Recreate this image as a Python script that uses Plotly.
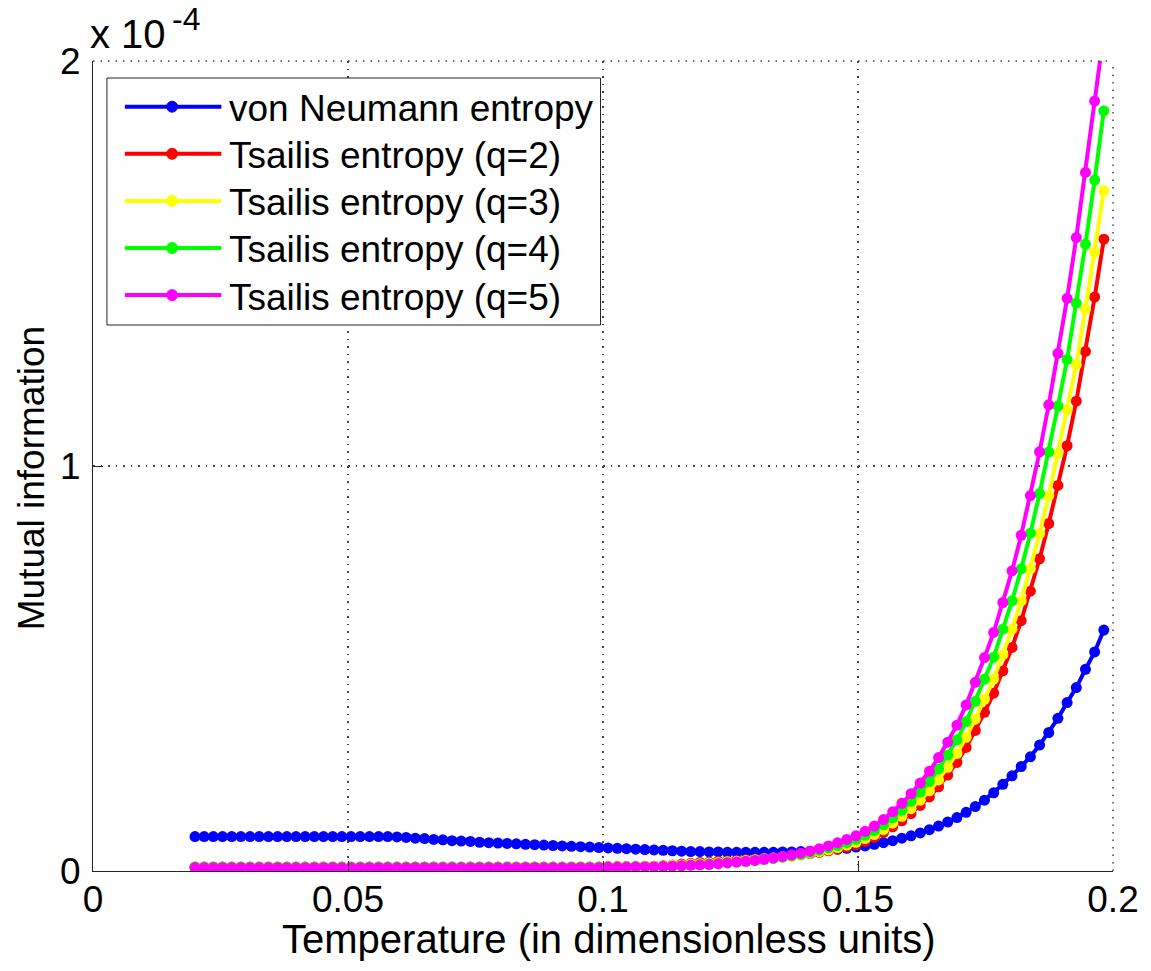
import plotly.graph_objects as go

# Temperature grid (dimensionless)
temperature = [
    0.0200, 0.0218, 0.0236, 0.0254, 0.0272, 0.0290, 0.0308, 0.0326, 0.0344, 0.0362,
    0.0380, 0.0398, 0.0416, 0.0434, 0.0452, 0.0470, 0.0488, 0.0506, 0.0524, 0.0542,
    0.0560, 0.0578, 0.0596, 0.0614, 0.0632, 0.0650, 0.0668, 0.0686, 0.0704, 0.0722,
    0.0740, 0.0758, 0.0776, 0.0794, 0.0812, 0.0830, 0.0848, 0.0866, 0.0884, 0.0902,
    0.0920, 0.0938, 0.0956, 0.0974, 0.0992, 0.1010, 0.1028, 0.1046, 0.1064, 0.1082,
    0.1100, 0.1118, 0.1136, 0.1154, 0.1172, 0.1190, 0.1208, 0.1226, 0.1244, 0.1262,
    0.1280, 0.1298, 0.1316, 0.1334, 0.1352, 0.1370, 0.1388, 0.1406, 0.1424, 0.1442,
    0.1460, 0.1478, 0.1496, 0.1514, 0.1532, 0.1550, 0.1568, 0.1586, 0.1604, 0.1622,
    0.1640, 0.1658, 0.1676, 0.1694, 0.1712, 0.1730, 0.1748, 0.1766, 0.1784, 0.1802,
    0.1820, 0.1838, 0.1856, 0.1874, 0.1892, 0.1910, 0.1928, 0.1946, 0.1964, 0.1982,
]

# Mutual information, in units of 1e-4
von_neumann = [
    0.085, 0.085, 0.085, 0.085, 0.085, 0.085, 0.085, 0.085, 0.085, 0.085,
    0.085, 0.085, 0.085, 0.085, 0.085, 0.085, 0.085, 0.085, 0.085, 0.085,
    0.085, 0.085, 0.084, 0.083, 0.081, 0.080, 0.078, 0.077, 0.075, 0.074,
    0.073, 0.071, 0.070, 0.069, 0.068, 0.067, 0.066, 0.065, 0.064, 0.063,
    0.062, 0.061, 0.060, 0.059, 0.058, 0.057, 0.056, 0.055, 0.054, 0.053,
    0.052, 0.051, 0.050, 0.049, 0.048, 0.048, 0.047, 0.047, 0.046, 0.046,
    0.046, 0.046, 0.046, 0.046, 0.047, 0.047, 0.048, 0.049, 0.050, 0.052,
    0.054, 0.056, 0.059, 0.062, 0.066, 0.070, 0.075, 0.081, 0.087, 0.094,
    0.102, 0.111, 0.121, 0.132, 0.145, 0.159, 0.175, 0.193, 0.214, 0.235,
    0.258, 0.282, 0.311, 0.342, 0.377, 0.416, 0.453, 0.498, 0.541, 0.595,
]

tsallis_q2 = [
    0.010, 0.010, 0.010, 0.010, 0.010, 0.010, 0.010, 0.010, 0.010, 0.010,
    0.010, 0.010, 0.010, 0.010, 0.010, 0.010, 0.010, 0.010, 0.010, 0.010,
    0.010, 0.010, 0.010, 0.010, 0.010, 0.010, 0.010, 0.010, 0.010, 0.010,
    0.010, 0.010, 0.010, 0.010, 0.010, 0.010, 0.010, 0.010, 0.010, 0.010,
    0.010, 0.010, 0.010, 0.010, 0.010, 0.011, 0.011, 0.011, 0.011, 0.012,
    0.012, 0.013, 0.015, 0.017, 0.019, 0.021, 0.022, 0.024, 0.025, 0.026,
    0.028, 0.029, 0.031, 0.033, 0.035, 0.037, 0.040, 0.043, 0.046, 0.050,
    0.054, 0.059, 0.065, 0.073, 0.083, 0.095, 0.109, 0.124, 0.142, 0.162,
    0.183, 0.208, 0.237, 0.268, 0.305, 0.347, 0.392, 0.439, 0.494, 0.552,
    0.618, 0.691, 0.771, 0.858, 0.952, 1.050, 1.160, 1.283, 1.417, 1.560,
]

tsallis_q3 = [
    0.009, 0.009, 0.009, 0.009, 0.009, 0.009, 0.009, 0.009, 0.009, 0.009,
    0.009, 0.009, 0.009, 0.009, 0.009, 0.009, 0.009, 0.009, 0.009, 0.009,
    0.009, 0.009, 0.009, 0.009, 0.009, 0.009, 0.009, 0.009, 0.009, 0.009,
    0.009, 0.009, 0.009, 0.009, 0.009, 0.009, 0.009, 0.009, 0.009, 0.009,
    0.009, 0.009, 0.009, 0.009, 0.009, 0.010, 0.010, 0.010, 0.010, 0.011,
    0.011, 0.012, 0.014, 0.015, 0.017, 0.018, 0.020, 0.021, 0.023, 0.024,
    0.026, 0.028, 0.030, 0.032, 0.035, 0.037, 0.040, 0.044, 0.048, 0.052,
    0.058, 0.064, 0.071, 0.080, 0.090, 0.102, 0.118, 0.135, 0.154, 0.175,
    0.198, 0.225, 0.256, 0.290, 0.330, 0.375, 0.424, 0.474, 0.534, 0.597,
    0.667, 0.746, 0.833, 0.927, 1.031, 1.138, 1.250, 1.387, 1.528, 1.680,
]

tsallis_q4 = [
    0.009, 0.009, 0.009, 0.009, 0.009, 0.009, 0.009, 0.009, 0.009, 0.009,
    0.009, 0.009, 0.009, 0.009, 0.009, 0.009, 0.009, 0.009, 0.009, 0.009,
    0.009, 0.009, 0.009, 0.009, 0.009, 0.009, 0.009, 0.009, 0.009, 0.009,
    0.009, 0.009, 0.009, 0.009, 0.009, 0.009, 0.009, 0.009, 0.009, 0.009,
    0.009, 0.009, 0.009, 0.009, 0.009, 0.009, 0.009, 0.010, 0.010, 0.010,
    0.010, 0.011, 0.012, 0.013, 0.015, 0.016, 0.018, 0.019, 0.021, 0.022,
    0.024, 0.026, 0.029, 0.031, 0.034, 0.038, 0.041, 0.046, 0.051, 0.057,
    0.063, 0.070, 0.078, 0.088, 0.100, 0.114, 0.131, 0.150, 0.172, 0.195,
    0.221, 0.252, 0.286, 0.324, 0.369, 0.419, 0.474, 0.528, 0.597, 0.667,
    0.746, 0.834, 0.932, 1.035, 1.148, 1.263, 1.402, 1.548, 1.706, 1.877,
]

tsallis_q5 = [
    0.008, 0.008, 0.008, 0.008, 0.008, 0.008, 0.008, 0.008, 0.008, 0.008,
    0.008, 0.008, 0.008, 0.008, 0.008, 0.008, 0.008, 0.008, 0.008, 0.008,
    0.008, 0.008, 0.008, 0.008, 0.008, 0.008, 0.008, 0.008, 0.008, 0.008,
    0.008, 0.008, 0.008, 0.008, 0.008, 0.008, 0.008, 0.008, 0.008, 0.008,
    0.008, 0.008, 0.008, 0.008, 0.008, 0.009, 0.009, 0.009, 0.010, 0.010,
    0.010, 0.011, 0.012, 0.013, 0.014, 0.015, 0.016, 0.018, 0.020, 0.022,
    0.024, 0.026, 0.029, 0.032, 0.036, 0.040, 0.044, 0.049, 0.055, 0.062,
    0.070, 0.078, 0.087, 0.098, 0.111, 0.127, 0.146, 0.167, 0.191, 0.217,
    0.246, 0.280, 0.318, 0.360, 0.410, 0.466, 0.527, 0.589, 0.663, 0.741,
    0.829, 0.927, 1.035, 1.151, 1.278, 1.414, 1.564, 1.725, 1.901, 2.070,
]

series_names = [
    'von Neumann entropy',
    'Tsailis entropy (q=2)',
    'Tsailis entropy (q=3)',
    'Tsailis entropy (q=4)',
    'Tsailis entropy (q=5)',
]
series_values = [von_neumann, tsallis_q2, tsallis_q3, tsallis_q4, tsallis_q5]
series_colors = ['#0000FF', '#FF0000', '#FFFF00', '#00FF00', '#FF00FF']

x_tick_vals = [0, 0.05, 0.1, 0.15, 0.2]
x_tick_text = ['0', '0.05', '0.1', '0.15', '0.2']
y_tick_vals = [0, 1, 2]
y_tick_text = ['0', '1', '2']

FONT = 'Liberation Sans, Arial, sans-serif'
FS = 37

# plot area in page pixels (body margin is removed in the page, see write_html)
L, R, T, B = 93, 1118, 61, 871
W, H = 1151, 971


def px(xp):
    return (xp - L) / (R - L)


def py(yp):
    return (B - yp) / (B - T)


fig = go.Figure()

for name, vals, color in zip(series_names, series_values, series_colors):
    fig.add_trace(go.Scatter(
        x=temperature, y=vals, name=name,
        mode='lines+markers',
        line=dict(color=color, width=4),
        marker=dict(color=color, size=11),
        showlegend=False,
    ))

GRID = '#444444'
GRID_DASH = '1.5px,6px'

axis_common = dict(
    showline=True, linecolor='#262626', linewidth=1,
    ticks='inside', ticklen=10, tickcolor='#262626', tickwidth=1,
    showgrid=True, gridcolor=GRID, gridwidth=1.5, griddash=GRID_DASH,
    zeroline=False, mirror=False,
    tickfont=dict(family=FONT, size=FS, color='black'),
)

fig.update_layout(
    width=W, height=H,
    margin=dict(l=L, r=W - R, t=T, b=H - B),
    paper_bgcolor='white', plot_bgcolor='white',
    xaxis=dict(range=[0, 0.2], tickvals=x_tick_vals, ticktext=x_tick_text,
               ticklabelstandoff=-4, **axis_common),
    yaxis=dict(range=[0, 2], tickvals=y_tick_vals, ticktext=y_tick_text,
               ticklabelstandoff=4, **axis_common),
    font=dict(family=FONT, size=FS, color='black'),
)

shapes = []
annotations = []

# dotted grid on the top and right edges (MATLAB box off + grid on)
shapes.append(dict(type='line', xref='paper', yref='paper', x0=0, x1=1, y0=1, y1=1,
                   line=dict(color=GRID, width=1.5, dash=GRID_DASH)))
shapes.append(dict(type='line', xref='paper', yref='paper', x0=1, x1=1, y0=0, y1=1,
                   line=dict(color=GRID, width=1.5, dash=GRID_DASH)))

# hand-drawn MATLAB style legend (long line samples)
shapes.append(dict(type='rect', xref='paper', yref='paper',
                   x0=px(107), x1=px(603), y0=py(325), y1=py(78),
                   line=dict(color='#262626', width=1), fillcolor='white', layer='above'))
for k, (name, color) in enumerate(zip(series_names, series_colors)):
    yc = 106.7 + 47.1 * k
    shapes.append(dict(type='line', xref='paper', yref='paper',
                       x0=px(125), x1=px(222), y0=py(yc), y1=py(yc),
                       line=dict(color=color, width=4), layer='above'))
    shapes.append(dict(type='circle', xref='paper', yref='paper',
                       x0=px(167), x1=px(178), y0=py(yc + 5.5), y1=py(yc - 5.5),
                       line=dict(color=color, width=1), fillcolor=color, layer='above'))
    annotations.append(dict(xref='paper', yref='paper', x=px(228), y=py(yc),
                            xanchor='left', yanchor='middle', yshift=-2,
                            text=name, showarrow=False,
                            font=dict(family=FONT, size=FS, color='black')))

# exponent label: "x 10" with a raised "-4"
annotations.append(dict(xref='paper', yref='paper', x=px(88), y=py(58),
                        xanchor='left', yanchor='bottom',
                        text='x 10', showarrow=False,
                        font=dict(family=FONT, size=40, color='black')))
annotations.append(dict(xref='paper', yref='paper', x=px(170), y=py(39),
                        xanchor='left', yanchor='bottom',
                        text='-4', showarrow=False,
                        font=dict(family=FONT, size=32, color='black')))

# axis titles
annotations.append(dict(xref='paper', yref='paper', x=px(612), y=py(939),
                        xanchor='center', yanchor='middle',
                        text='Temperature (in dimensionless units)', showarrow=False,
                        font=dict(family=FONT, size=40, color='black')))
annotations.append(dict(xref='paper', yref='paper', x=px(31), y=py(478),
                        xanchor='center', yanchor='middle', textangle=-90,
                        text='Mutual information', showarrow=False,
                        font=dict(family=FONT, size=FS, color='black')))

fig.update_layout(shapes=shapes, annotations=annotations)

fig.write_html("out.html", config={'displayModeBar': False},
               post_script="document.body.style.margin='0';")
